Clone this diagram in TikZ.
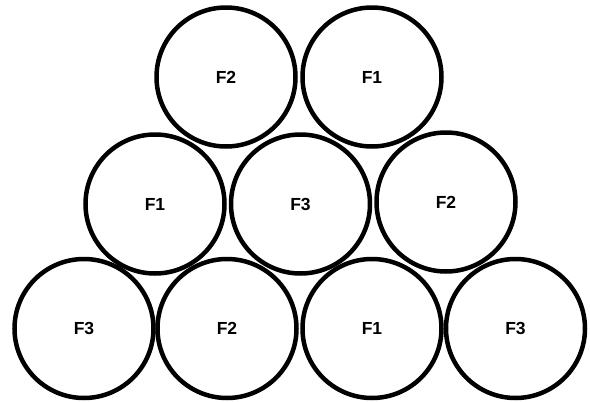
\documentclass[tikz,border=0pt]{standalone}
\usepackage{fontspec}
\setmainfont{Liberation Sans}
\begin{document}
\begin{tikzpicture}[x=1pt,y=-1pt,
  roll/.style={circle,draw=black,line width=4.5pt,minimum size=139pt,inner sep=0pt,fill=white,
    font=\fontsize{17.5}{20}\selectfont\bfseries}]
\useasboundingbox (0,0) rectangle (590,402);
\node[roll] (t1) at (226,77) {F2};
\node[roll] (t2) at (372,77) {F1};
\node[roll] (m1) at (155,204) {F1};
\node[roll] (m2) at (300.5,204) {F3};
\node[roll] (m3) at (446,202) {F2};
\node[roll] (b1) at (84,328.5) {F3};
\node[roll] (b2) at (227,328.5) {F2};
\node[roll] (b3) at (372,328.5) {F1};
\node[roll] (b4) at (515.5,328.5) {F3};
\end{tikzpicture}
\end{document}
